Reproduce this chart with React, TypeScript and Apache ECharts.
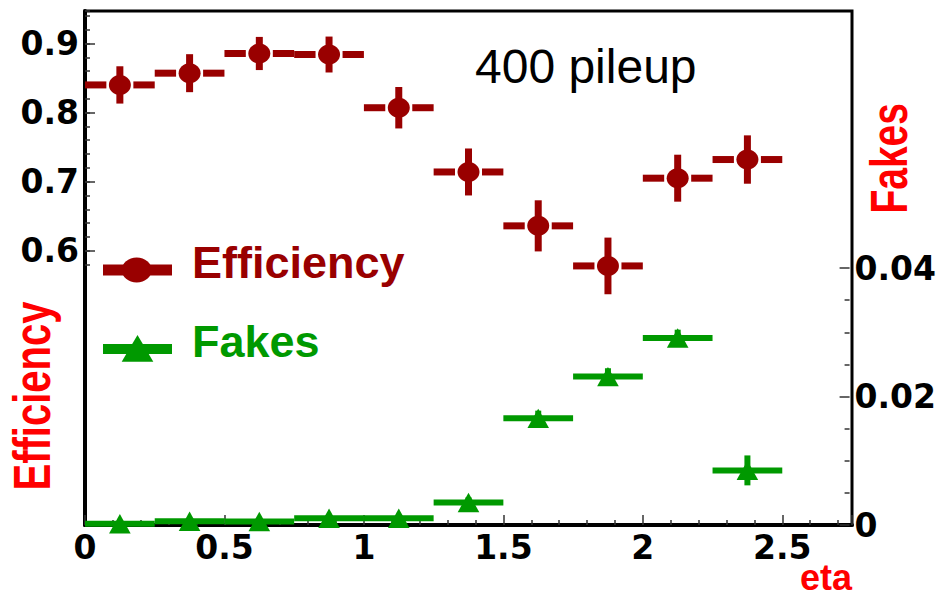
import React, { useEffect, useRef } from "react";
import * as echarts from "echarts";

// ---- data ----
const etaCenters = [0.125, 0.375, 0.625, 0.875, 1.125, 1.375, 1.625, 1.875, 2.125, 2.375];
const binHalfWidth = 0.125;
const efficiency = [0.84, 0.857, 0.8855, 0.884, 0.807, 0.714, 0.636, 0.578, 0.705, 0.732];
const efficiencyErr = [0.027, 0.0275, 0.024, 0.026, 0.03, 0.034, 0.037, 0.041, 0.034, 0.035];
const fakes = [0.0002, 0.00058, 0.00055, 0.00104, 0.00104, 0.0035, 0.0166, 0.0231, 0.0291, 0.0085];
const fakesErr = [0.0002, 0.0003, 0.0003, 0.0004, 0.0004, 0.0008, 0.0012, 0.0013, 0.0013, 0.00233];

const xTickLabels = ["0", "0.5", "1", "1.5", "2", "2.5"];
const effTickLabels = ["0.6", "0.7", "0.8", "0.9"];
const fakesTickLabels = ["0", "0.02", "0.04"];

const EFF_COLOR = "#990000";
const FAKE_COLOR = "#009900";
const TITLE_RED = "#ff0000";
const TICK_COLOR = "#333333";

const G_LEFT = 85;
const G_TOP = 11;
const G_W = 767;
const G_H = 514;
const EFF_MIN = 0.203;
const EFF_MAX = 0.947;
const EFF_PX = G_H / (EFF_MAX - EFF_MIN);
const FAKE_MAX = 0.08;
const FAKE_PX = G_H / FAKE_MAX;

const labelFont = {
  fontFamily: "DejaVu Sans",
  fontWeight: "bold" as const,
  fontSize: 33,
  color: "#000",
};

export default function App() {
  const ref = useRef<HTMLDivElement>(null);

  useEffect(() => {
    if (!ref.current) return;
    const chart = echarts.init(ref.current, undefined, { renderer: "svg" });

    const effData = etaCenters.map((x, i) => [x, efficiency[i], efficiencyErr[i]]);
    const fakeData = etaCenters.map((x, i) => [x, fakes[i], fakesErr[i]]);

    const hiddenX = (gridIndex: number) => ({
      type: "value",
      gridIndex,
      min: 0,
      max: 2.75,
      show: false,
      axisLine: { show: false, onZero: false },
      axisTick: { show: false },
      axisLabel: { show: false },
      splitLine: { show: false },
    });

    const tickLine = { color: TICK_COLOR, width: 1.5 };

    const option: any = {
      animation: false,
      backgroundColor: "#fff",
      grid: [
        { left: G_LEFT, top: G_TOP, width: G_W, height: G_H, show: true, borderColor: "#000", borderWidth: 3, backgroundColor: "transparent" },
        { left: G_LEFT, top: G_TOP, width: G_W, height: (EFF_MAX - 0.58) * EFF_PX },
        { left: G_LEFT, top: G_TOP, width: G_W, height: (EFF_MAX - 0.6) * EFF_PX },
        { left: G_LEFT, top: G_TOP + G_H - 0.04 * FAKE_PX, width: G_W, height: 0.04 * FAKE_PX },
      ],
      xAxis: [
        {
          type: "value",
          gridIndex: 0,
          min: 0,
          max: 2.75,
          interval: 0.5,
          position: "bottom",
          axisLine: { show: true, onZero: false, lineStyle: { color: "#000", width: 4 } },
          axisTick: { show: true, inside: true, length: 10, lineStyle: tickLine },
          minorTick: { show: true, splitNumber: 5, length: 5, lineStyle: tickLine },
          splitLine: { show: false },
          minorSplitLine: { show: false },
          axisLabel: {
            ...labelFont,
            margin: 6,
            showMaxLabel: false,
            formatter: (v: number) => {
              const idx = Math.round(v / 0.5);
              return Math.abs(v - idx * 0.5) < 1e-6 && idx < xTickLabels.length ? xTickLabels[idx] : "";
            },
          },
        },
        hiddenX(1),
        hiddenX(2),
        hiddenX(3),
      ],
      yAxis: [
        {
          type: "value",
          gridIndex: 0,
          min: EFF_MIN,
          max: EFF_MAX,
          position: "left",
          axisLine: { show: true, onZero: false, lineStyle: { color: "#000", width: 4 } },
          axisTick: { show: false },
          minorTick: { show: false },
          axisLabel: { show: false },
          splitLine: { show: false },
        },
        {
          type: "value",
          gridIndex: 0,
          min: 0,
          max: FAKE_MAX,
          position: "right",
          axisLine: { show: false, onZero: false },
          axisTick: { show: false },
          minorTick: { show: false },
          axisLabel: { show: false },
          splitLine: { show: false },
        },
        {
          // minor ticks of the efficiency axis
          type: "value",
          gridIndex: 1,
          min: 0.58,
          max: EFF_MAX,
          interval: 0.02,
          position: "left",
          axisLine: { show: false, onZero: false },
          axisTick: { show: true, inside: true, length: 5, lineStyle: tickLine },
          axisLabel: { show: false },
          splitLine: { show: false },
        },
        {
          // major ticks + labels of the efficiency axis
          type: "value",
          gridIndex: 2,
          min: 0.6,
          max: EFF_MAX,
          interval: 0.1,
          position: "left",
          axisLine: { show: false, onZero: false },
          axisTick: { show: true, inside: true, length: 10, lineStyle: tickLine },
          splitLine: { show: false },
          axisLabel: {
            ...labelFont,
            margin: 6,
            showMaxLabel: false,
            formatter: (v: number) => {
              const idx = Math.round((v - 0.6) / 0.1);
              return Math.abs(v - (0.6 + idx * 0.1)) < 1e-6 && idx >= 0 && idx < effTickLabels.length ? effTickLabels[idx] : "";
            },
          },
        },
        {
          // visible fakes axis (right)
          type: "value",
          gridIndex: 3,
          min: 0,
          max: 0.04,
          interval: 0.02,
          position: "right",
          axisLine: { show: false, onZero: false },
          axisTick: { show: true, inside: true, length: 10, lineStyle: tickLine },
          minorTick: { show: true, splitNumber: 4, length: 5, lineStyle: tickLine },
          splitLine: { show: false },
          axisLabel: {
            ...labelFont,
            margin: 5,
            formatter: (v: number) => {
              const idx = Math.round(v / 0.02);
              return idx >= 0 && idx < fakesTickLabels.length ? fakesTickLabels[idx] : "";
            },
          },
        },
      ],
      series: [
        {
          name: "Fakes",
          type: "custom",
          xAxisIndex: 0,
          yAxisIndex: 1,
          clip: false,
          z: 3,
          dimensions: ["eta", "fakes", "err"],
          encode: { x: 0, y: 1 },
          itemStyle: { color: FAKE_COLOR },
          data: fakeData,
          renderItem: (_params: any, api: any) => {
            const x = api.value(0);
            const y = api.value(1);
            const e = api.value(2);
            const c = api.coord([x, y]);
            const l = api.coord([x - binHalfWidth, y]);
            const r = api.coord([x + binHalfWidth, y]);
            const t = api.coord([x, y + e]);
            const b = api.coord([x, y - e]);
            const st = { stroke: FAKE_COLOR, lineWidth: 6, fill: null };
            return {
              type: "group",
              children: [
                { type: "line", shape: { x1: l[0], y1: c[1], x2: r[0], y2: c[1] }, style: st },
                { type: "line", shape: { x1: c[0], y1: t[1], x2: c[0], y2: b[1] }, style: st },
                {
                  type: "polygon",
                  shape: { points: [[c[0] - 10.8, c[1] + 9.7], [c[0], c[1] - 9.7], [c[0] + 10.8, c[1] + 9.7]] },
                  style: { fill: FAKE_COLOR },
                },
              ],
            };
          },
        },
        {
          name: "Efficiency",
          type: "custom",
          xAxisIndex: 0,
          yAxisIndex: 0,
          clip: false,
          z: 4,
          dimensions: ["eta", "efficiency", "err"],
          encode: { x: 0, y: 1 },
          itemStyle: { color: EFF_COLOR },
          data: effData,
          renderItem: (_params: any, api: any) => {
            const x = api.value(0);
            const y = api.value(1);
            const e = api.value(2);
            const c = api.coord([x, y]);
            const l = api.coord([x - binHalfWidth, y]);
            const r = api.coord([x + binHalfWidth, y]);
            const t = api.coord([x, y + e]);
            const b = api.coord([x, y - e]);
            const rx = 11;
            const ry = 10;
            const gap = 2.5;
            const st = { stroke: EFF_COLOR, lineWidth: 7, fill: null };
            return {
              type: "group",
              children: [
                { type: "line", shape: { x1: l[0], y1: c[1], x2: c[0] - rx - gap, y2: c[1] }, style: st },
                { type: "line", shape: { x1: c[0] + rx + gap, y1: c[1], x2: r[0], y2: c[1] }, style: st },
                { type: "line", shape: { x1: c[0], y1: t[1], x2: c[0], y2: b[1] }, style: st },
                { type: "ellipse", shape: { cx: c[0], cy: c[1], rx, ry }, style: { fill: EFF_COLOR } },
              ],
            };
          },
        },
      ],
      graphic: [
        // legend: Efficiency
        { type: "rect", shape: { x: 103, y: 264.5, width: 69, height: 11 }, style: { fill: EFF_COLOR }, z: 10 },
        { type: "ellipse", shape: { cx: 136.7, cy: 270, rx: 15, ry: 12.5 }, style: { fill: EFF_COLOR }, z: 10 },
        {
          type: "text",
          x: 192,
          y: 262.4,
          z: 10,
          style: { text: "Efficiency", fill: EFF_COLOR, font: "bold 45px 'Liberation Sans', Arial, sans-serif", align: "left", verticalAlign: "middle" },
        },
        // legend: Fakes
        { type: "rect", shape: { x: 103, y: 344, width: 69, height: 10 }, style: { fill: FAKE_COLOR }, z: 10 },
        { type: "polygon", shape: { points: [[121.7, 361.7], [137.5, 335], [153.3, 361.7]] }, style: { fill: FAKE_COLOR }, z: 10 },
        {
          type: "text",
          x: 192,
          y: 341.4,
          z: 10,
          style: { text: "Fakes", fill: FAKE_COLOR, font: "bold 45px 'Liberation Sans', Arial, sans-serif", align: "left", verticalAlign: "middle" },
        },
        // annotation
        {
          type: "text",
          x: 475,
          y: 66.7,
          z: 10,
          style: { text: "400 pileup", fill: "#000", font: "48px 'Liberation Sans', Arial, sans-serif", align: "left", verticalAlign: "middle" },
        },
        // axis titles
        {
          type: "text",
          x: 32.3,
          y: 396,
          rotation: Math.PI / 2,
          scaleY: 1.28,
          z: 10,
          style: { text: "Efficiency", fill: TITLE_RED, font: "bold 40px 'Liberation Sans', Arial, sans-serif", align: "center", verticalAlign: "middle" },
        },
        {
          type: "text",
          x: 889.3,
          y: 158.3,
          rotation: Math.PI / 2,
          scaleY: 1.33,
          z: 10,
          style: { text: "Fakes", fill: TITLE_RED, font: "bold 39px 'Liberation Sans', Arial, sans-serif", align: "center", verticalAlign: "middle" },
        },
        {
          type: "text",
          x: 852,
          y: 577,
          z: 10,
          style: { text: "eta", fill: TITLE_RED, font: "bold 36px 'Liberation Sans', Arial, sans-serif", align: "right", verticalAlign: "middle" },
        },
      ],
    };

    chart.setOption(option);
    return () => {
      chart.dispose();
    };
  }, []);

  return (
    <div
      ref={ref}
      style={{ position: "fixed", left: 0, top: 0, width: 939, height: 598, background: "#fff" }}
    />
  );
}
